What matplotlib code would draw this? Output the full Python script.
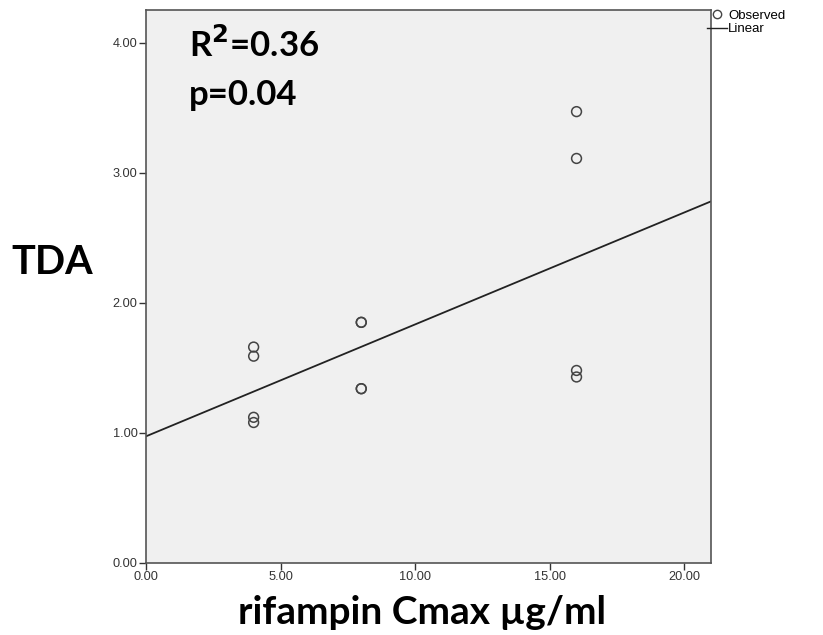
# scatter of TDA vs rifampin Cmax with linear fit

import numpy as np
import matplotlib.pyplot as plt
from matplotlib.lines import Line2D

# data
cmax = [4, 4, 4, 4, 8, 8, 8, 8, 16, 16, 16, 16]
tda = [1.66, 1.59, 1.12, 1.08, 1.85, 1.85, 1.34, 1.34, 3.47, 3.11, 1.48, 1.43]
x_ticks = [0, 5, 10, 15, 20]
y_ticks = [0, 1, 2, 3, 4]
r2_text = "0.36"
p_text = "0.04"

# linear fit
slope, intercept = np.polyfit(cmax, tda, 1)
x_line = np.array([0, 21])
y_line = intercept + slope * x_line

plt.rcParams['font.family'] = ['Liberation Sans', 'DejaVu Sans']

fig = plt.figure(figsize=(8.23, 6.35), dpi=100)
ax = fig.add_axes([0.1774, 0.1134, 0.6866, 0.8706])
ax.set_facecolor('#f0f0f0')

ax.scatter(cmax, tda, s=50, facecolors='none', edgecolors='#444444', linewidths=1.1, zorder=3)
ax.plot(x_line, y_line, color='#222222', linewidth=1.3, zorder=2)

ax.set_xlim(0, 21)
ax.set_ylim(0, 4.25)
ax.set_xticks(x_ticks)
ax.set_yticks(y_ticks)
ax.set_xticklabels([f'{v:.2f}' for v in x_ticks])
ax.set_yticklabels([f'{v:.2f}' for v in y_ticks])
ax.tick_params(axis='both', labelsize=9.2, colors='#333333', length=5, width=1, pad=1,
               direction='out')
for s in ax.spines.values():
    s.set_color('#555555')
    s.set_linewidth(1.2)

# big bold labels
big = dict(fontsize=25, fontweight='bold', family='Lato')
ax.text(1.6, 3.98, r'R$^{\mathbf{2}}$=' + r2_text, va='center', ha='left', **big)
ax.text(1.6, 3.60, 'p=' + p_text, va='center', ha='left', **big)
fig.text(0.063, 0.587, 'TDA', ha='center', va='center', fontsize=28.5,
         fontweight='bold', family='Lato')
fig.text(0.513, 0.036, 'rifampin Cmax µg/ml', ha='center', va='center', fontsize=28,
         fontweight='bold', family='Lato')

# legend outside at top right
handles = [Line2D([], [], marker='o', linestyle='none', markerfacecolor='none',
                  markeredgecolor='#444444', markersize=6, label='Observed'),
           Line2D([], [], color='#222222', linewidth=1, label='Linear')]
fig.legend(handles=handles, loc='upper left', bbox_to_anchor=(0.856, 0.989),
           frameon=False, fontsize=9.5, handlelength=1.5, handletextpad=0.1,
           labelspacing=0.1, borderaxespad=0, borderpad=0.2)

fig.savefig('out.png', dpi=100)
